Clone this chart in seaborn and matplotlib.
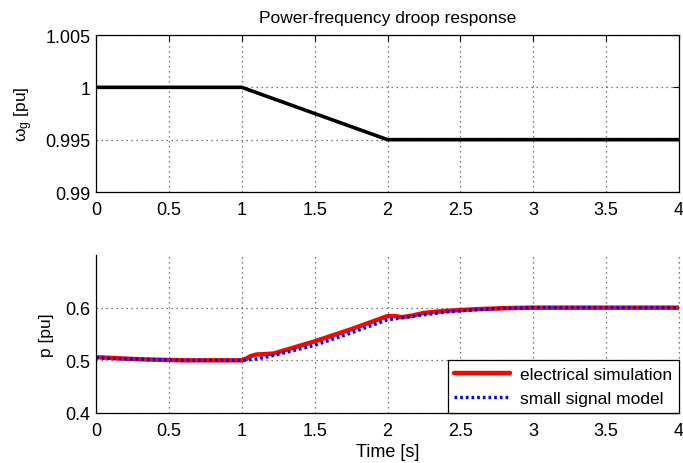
import numpy as np
import pandas as pd
import matplotlib
matplotlib.use("Agg")
import matplotlib.pyplot as plt
import seaborn as sns

# ---- data ----
t_omega = [0.0, 1.0, 2.0, 4.0]
omega_g = [1.0, 1.0, 0.995, 0.995]

t_elec = [0.0, 0.15, 0.3, 0.45, 0.6, 0.8, 1.0, 1.03, 1.06, 1.1, 1.17, 1.22,
          1.5, 1.75, 2.0, 2.05, 2.1, 2.17, 2.25, 2.4, 2.6, 2.8, 3.0, 4.0]
p_elec = [0.506, 0.504, 0.502, 0.501, 0.5, 0.5, 0.5, 0.503, 0.508, 0.511, 0.512,
          0.513, 0.536, 0.559, 0.584, 0.584, 0.582, 0.585, 0.590, 0.594, 0.597, 0.599, 0.600, 0.600]

t_small = [0.0, 0.15, 0.3, 0.45, 0.6, 0.8, 1.0, 1.1, 1.2, 1.5, 1.75, 2.0, 2.08,
           2.25, 2.4, 2.6, 2.8, 3.0, 4.0]
p_small = [0.505, 0.503, 0.502, 0.501, 0.5, 0.5, 0.5, 0.5025, 0.508, 0.5285, 0.552,
           0.577, 0.580, 0.5865, 0.5917, 0.596, 0.599, 0.600, 0.600]

x_ticks = [0, 0.5, 1, 1.5, 2, 2.5, 3, 3.5, 4]
x_ticklabels = ["0", "0.5", "1", "1.5", "2", "2.5", "3", "3.5", "4"]
y1_ticks = [0.99, 0.995, 1.0, 1.005]
y1_ticklabels = ["0.99", "0.995", "1", "1.005"]
y2_ticks = [0.4, 0.5, 0.6]
y2_ticklabels = ["0.4", "0.5", "0.6"]

title = "Power-frequency droop response"
series_names = ["electrical simulation", "small signal model"]

# ---- style ----
sns.set_theme(style="white")
plt.rcParams['font.family'] = ['Liberation Sans', 'DejaVu Sans']
plt.rcParams['mathtext.fontset'] = 'custom'
plt.rcParams['mathtext.rm'] = 'Liberation Sans'
plt.rcParams['mathtext.it'] = 'Liberation Sans'
plt.rcParams['xtick.direction'] = 'in'
plt.rcParams['ytick.direction'] = 'in'
plt.rcParams['text.color'] = 'black'
plt.rcParams['axes.labelcolor'] = 'black'
plt.rcParams['axes.titlecolor'] = 'black'
plt.rcParams['legend.labelcolor'] = 'black'

FS = 13
LFS = 12.5
fig = plt.figure(figsize=(6.83, 4.64), dpi=100)
W, H = 683, 464
ax1 = fig.add_axes([96 / W, 1 - 193 / H, (679 - 96) / W, (193 - 36) / H])
ax2 = fig.add_axes([96 / W, 1 - 414 / H, (679 - 96) / W, (414 - 256) / H])

grid_kw = dict(color="#555555", linestyle=(0, (1, 3)), linewidth=0.9)

# top panel
df1 = pd.DataFrame({"t": t_omega, "w": omega_g})
sns.lineplot(data=df1, x="t", y="w", ax=ax1, color="black", linewidth=2.6)
ax1.set_xlim(0, 4)
ax1.set_ylim(0.99, 1.005)
ax1.set_xticks(x_ticks)
ax1.set_xticklabels(x_ticklabels, fontsize=FS)
ax1.set_yticks(y1_ticks)
ax1.set_yticklabels(y1_ticklabels, fontsize=FS)
ax1.set_xlabel("")
ax1.set_ylabel(r"$\omega_g$ [pu]", fontsize=LFS, labelpad=7)
ax1.set_title(title, fontsize=LFS, pad=9)
ax1.grid(True, **grid_kw)
ax1.tick_params(axis="both", which="both", length=4, width=0.8, color="black",
                top=True, right=True, labelcolor="black")
ax1.tick_params(axis="x", pad=6.5)
ax1.tick_params(axis="y", pad=4)
for s in ax1.spines.values():
    s.set_color("black")
    s.set_linewidth(0.9)

# bottom panel
df_e = pd.DataFrame({"t": t_elec, "p": p_elec})
df_s = pd.DataFrame({"t": t_small, "p": p_small})
sns.lineplot(data=df_e, x="t", y="p", ax=ax2, color="#ff0000", linewidth=3.2,
             label=series_names[0])
sns.lineplot(data=df_s, x="t", y="p", ax=ax2, color="#0000ff", linewidth=2.4,
             linestyle=(0, (0.8, 0.9)), label=series_names[1])
ax2.set_xlim(0, 4)
ax2.set_ylim(0.4, 0.7)
ax2.set_xticks(x_ticks)
ax2.set_xticklabels(x_ticklabels, fontsize=FS)
ax2.set_yticks(y2_ticks)
ax2.set_yticklabels(y2_ticklabels, fontsize=FS)
ax2.set_xlabel("Time [s]", fontsize=LFS + 0.5, labelpad=3)
ax2.set_ylabel("p [pu]", fontsize=LFS, labelpad=8)
ax2.grid(True, **grid_kw)
ax2.tick_params(axis="both", which="both", length=4, width=0.8, color="black",
                labelcolor="black")
ax2.tick_params(axis="x", pad=6.5)
ax2.tick_params(axis="y", pad=4)
ax2.spines["top"].set_visible(False)
ax2.spines["right"].set_visible(False)
for k in ("left", "bottom"):
    ax2.spines[k].set_color("black")
    ax2.spines[k].set_linewidth(0.9)
# dotted grid line at the right edge
ax2.axvline(4, **grid_kw, clip_on=False)

leg = ax2.legend(loc="lower right", bbox_to_anchor=(1.0, 0.0), borderaxespad=0,
                 fontsize=LFS, frameon=True, fancybox=False, handlelength=3.2,
                 borderpad=0.38, labelspacing=0.55, handletextpad=0.6)
leg.get_frame().set_edgecolor("black")
leg.get_frame().set_linewidth(0.9)
leg.get_frame().set_alpha(1)

fig.savefig("out.png", dpi=100)
